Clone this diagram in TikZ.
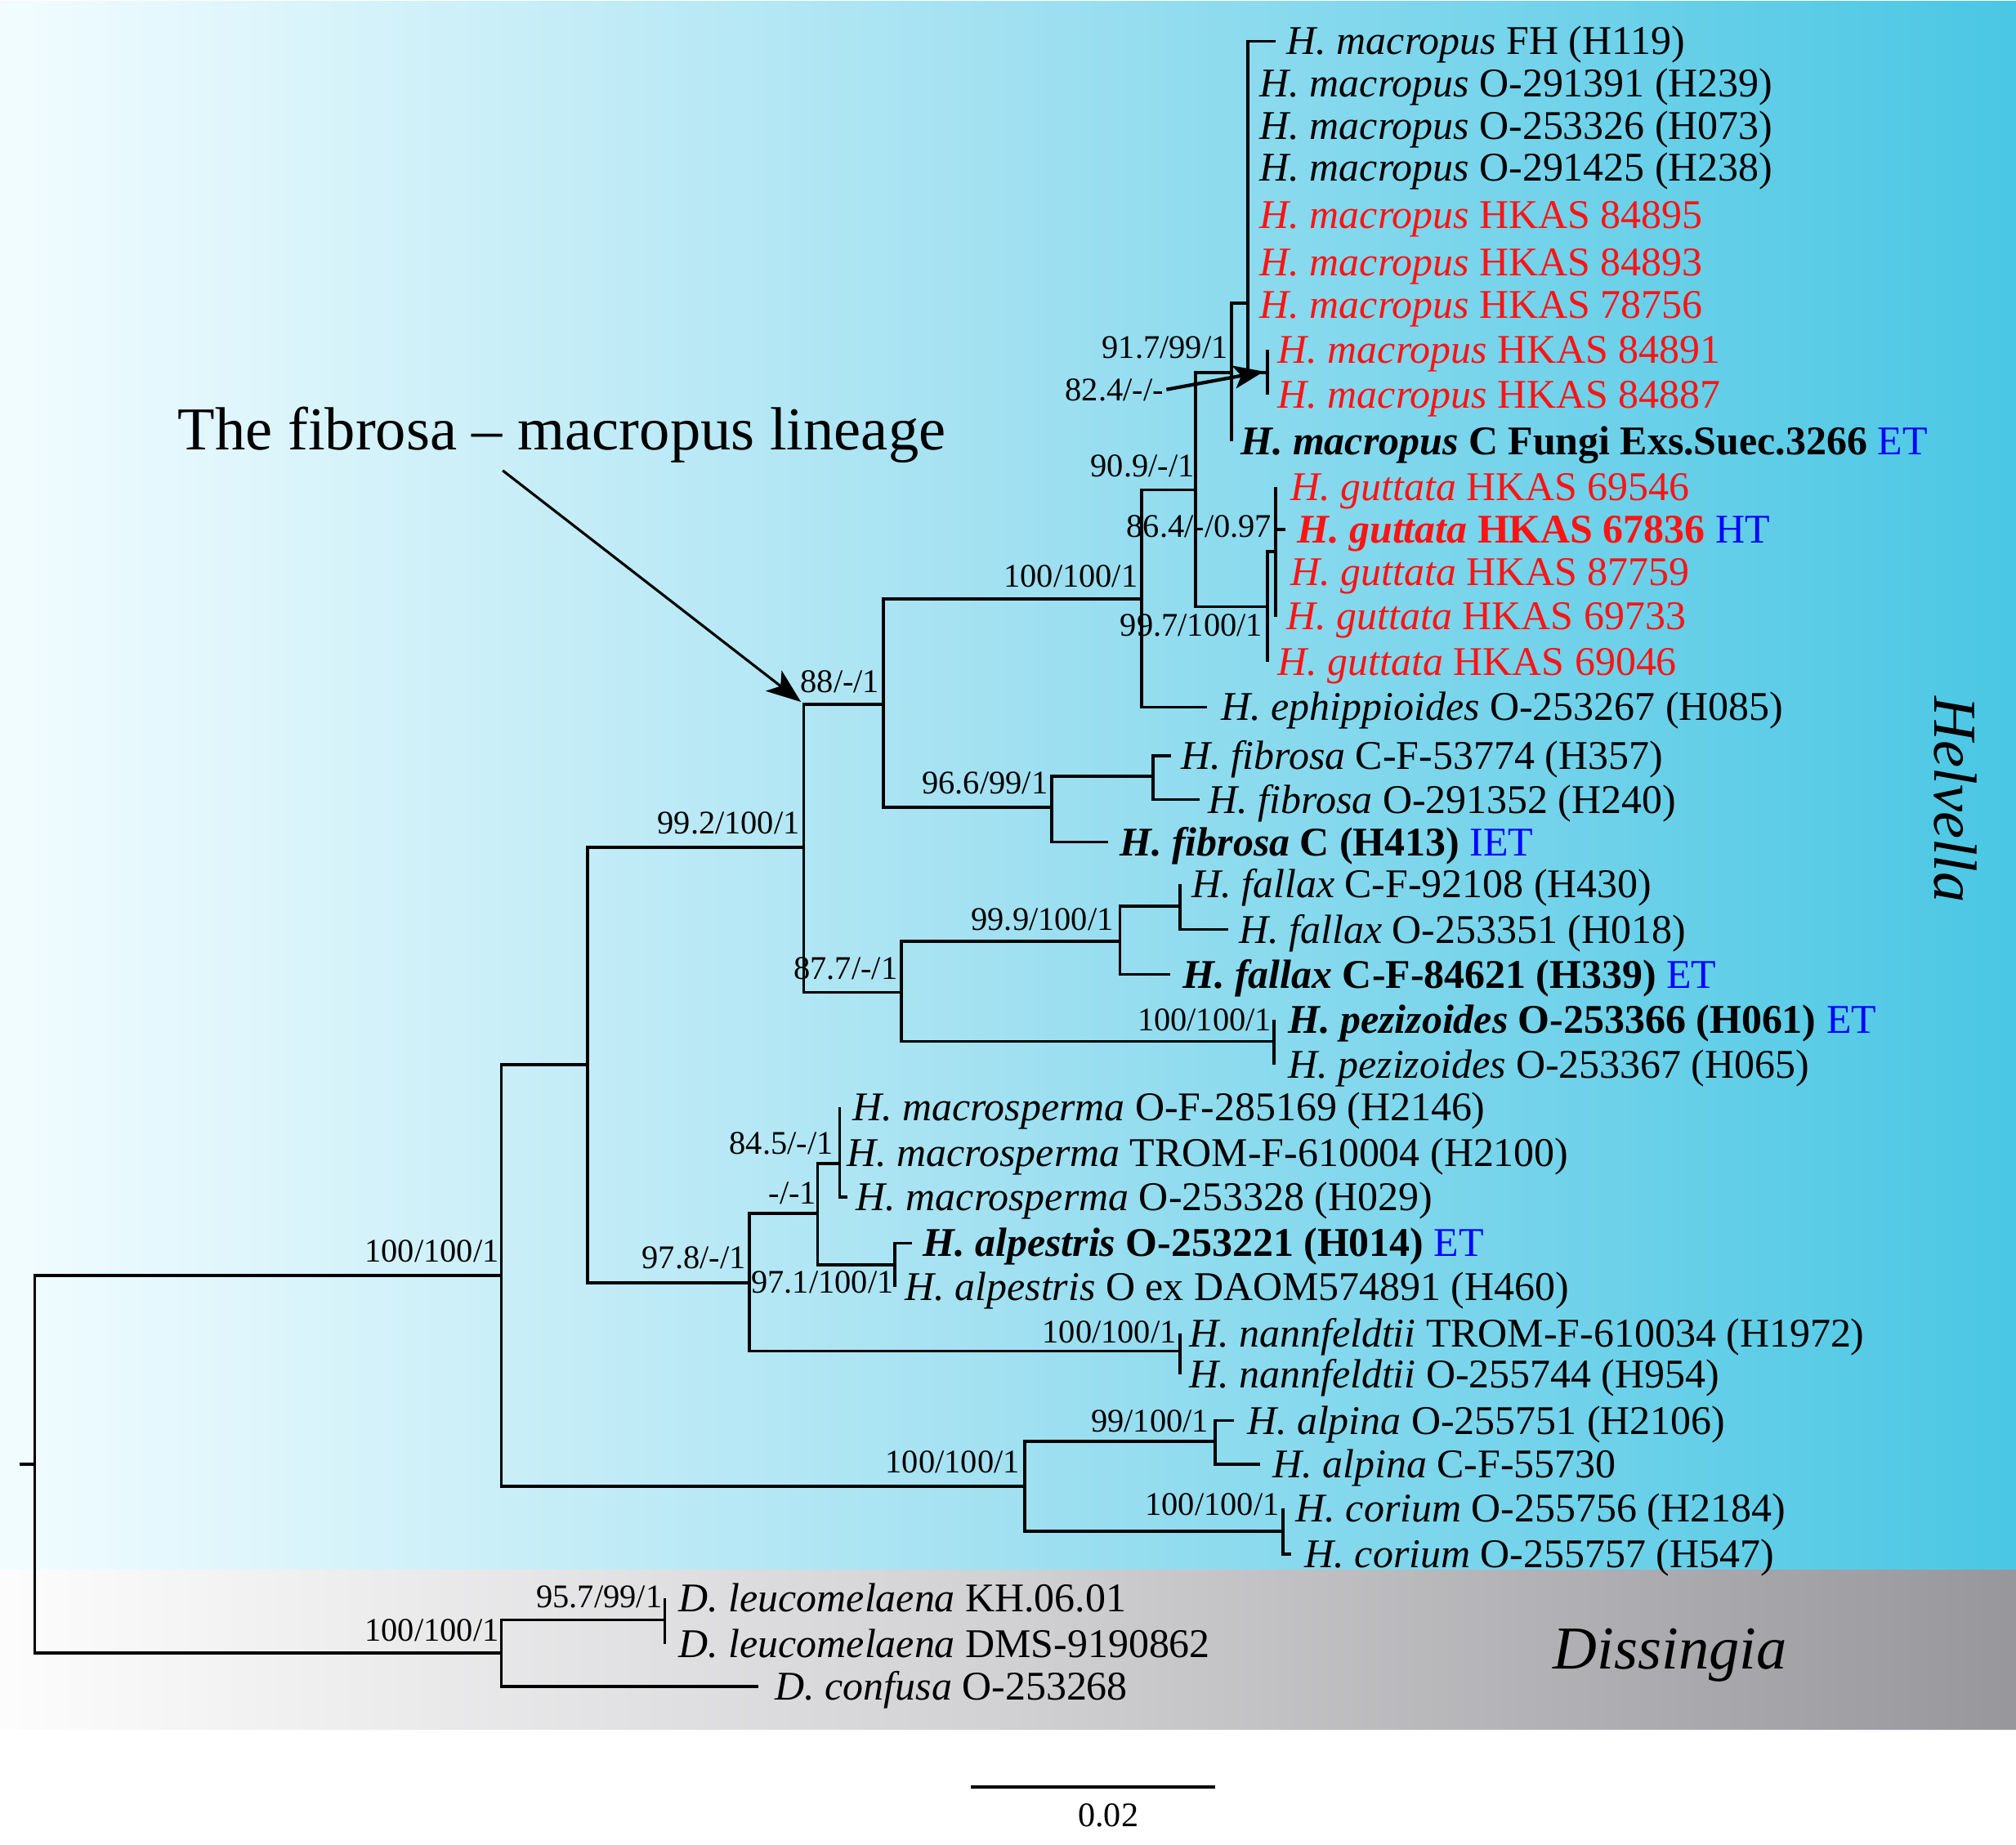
\documentclass[tikz,border=0pt]{standalone}
\usepackage{fontspec}
\setmainfont{Liberation Serif}
\usetikzlibrary{arrows.meta}
\definecolor{tred}{RGB}{250,20,20}
\definecolor{tblue}{RGB}{0,0,255}
\pgfdeclarehorizontalshading{helvshade}{100bp}{rgb(0bp)=(0.95,0.99,1.0); rgb(25bp)=(0.95,0.99,1.0); rgb(50bp)=(0.63,0.88,0.945); rgb(75bp)=(0.29,0.78,0.894); rgb(100bp)=(0.29,0.78,0.894)}
\pgfdeclarehorizontalshading{disshade}{100bp}{rgb(0bp)=(0.99,0.99,0.99); rgb(25bp)=(0.99,0.99,0.99); rgb(50bp)=(0.82,0.82,0.83); rgb(75bp)=(0.59,0.59,0.61); rgb(100bp)=(0.59,0.59,0.61)}
\newcommand\leafsz{\fontsize{14.2pt}{17pt}\selectfont}
\newcommand\supsz{\fontsize{11.5pt}{14pt}\selectfont}
\newcommand\bigsz{\fontsize{21.2pt}{25pt}\selectfont}
\newcommand\barsz{\fontsize{12pt}{14pt}\selectfont}
\tikzset{
  br/.style={line width=1.05pt, line join=miter, line cap=butt},
  leaf/.style={anchor=west, inner sep=0pt, outer sep=0pt, font=\leafsz, text height=9.4pt, text depth=0pt},
  redleaf/.style={leaf, text=tred},
  sup/.style={anchor=east, inner sep=0pt, outer sep=0pt, font=\supsz, text height=7.8pt, text depth=0pt},
  bigarrow/.style={line width=0.9pt, -{Stealth[length=12pt,width=9pt,inset=3pt]}},
  smallarrow/.style={line width=1.2pt, -{Stealth[length=10.5pt,width=8pt,inset=2.5pt]}}
}
\begin{document}
\begin{tikzpicture}[x=0.015733cm, y=-0.015733cm]
\useasboundingbox (0,0) rectangle (1568,1435);
% backgrounds
\shade[shading=helvshade] (0,1) rectangle (1568,1221);
\shade[shading=disshade] (0,1221) rectangle (1568,1345);

% internal nodes
\coordinate (rootstub) at (15,1139);
\coordinate (root) at (27,1139);
\coordinate (hel) at (390,992);
\coordinate (dis) at (390,1286);
\coordinate (nA) at (457,828);
\coordinate (nM) at (797,1156);
\coordinate (nB) at (625,659);
\coordinate (nC) at (583,998);
\coordinate (nD) at (687,548);
\coordinate (nG) at (701,772);
\coordinate (nE) at (888,466);
\coordinate (nF) at (818,628);
\coordinate (nR) at (930,381);
\coordinate (nS) at (958,290);
\coordinate (nU) at (970.5,236);
\coordinate (nV) at (986,290);
\coordinate (nT) at (986,472);
\coordinate (nW) at (992,429);
\coordinate (nX) at (897,604);
\coordinate (nH) at (871,732);
\coordinate (nJ) at (918,705);
\coordinate (nI) at (991,810);
\coordinate (nK) at (636,944);
\coordinate (nL) at (653,905);
\coordinate (nAl) at (696,984);
\coordinate (nN) at (918,1051);
\coordinate (nP) at (945,1121);
\coordinate (nO) at (998,1191);
\coordinate (nQ) at (517,1260);

% tips
\coordinate (p1) at (992,32);
\coordinate (p2) at (970.5,65);
\coordinate (p3) at (970.5,98);
\coordinate (p4) at (970.5,130);
\coordinate (p5) at (970.5,167);
\coordinate (p6) at (970.5,204);
\coordinate (p7) at (970.5,237);
\coordinate (p8) at (986,272);
\coordinate (p9) at (986,307);
\coordinate (p10) at (958,343);
\coordinate (p11) at (992,379);
\coordinate (p12) at (1000,412);
\coordinate (p13) at (992,445);
\coordinate (p14) at (992,480);
\coordinate (p15) at (986,515);
\coordinate (p16) at (939,550);
\coordinate (p17) at (911,588);
\coordinate (p18) at (933,622);
\coordinate (p19) at (862,655);
\coordinate (p20) at (918,688);
\coordinate (p21) at (955,723);
\coordinate (p22) at (910,758);
\coordinate (p23) at (991,793);
\coordinate (p24) at (991,828);
\coordinate (p25) at (653,861);
\coordinate (p26) at (653,897);
\coordinate (p27) at (659,931);
\coordinate (p28) at (709,967);
\coordinate (p29) at (696,1001);
\coordinate (p30) at (918,1037);
\coordinate (p31) at (918,1069);
\coordinate (p32) at (960,1105);
\coordinate (p33) at (980,1139);
\coordinate (p34) at (998,1173);
\coordinate (p35) at (1004,1209);
\coordinate (p36) at (517,1243);
\coordinate (p37) at (517,1279);
\coordinate (p38) at (590,1312);

% branches
\draw[br] (rootstub) -- (root);
\draw[br] (root) |- (hel);
\draw[br] (root) |- (dis);
\draw[br] (hel) |- (nA);
\draw[br] (hel) |- (nM);
\draw[br] (nA) |- (nB);
\draw[br] (nA) |- (nC);
\draw[br] (nB) |- (nD);
\draw[br] (nB) |- (nG);
\draw[br] (nD) |- (nE);
\draw[br] (nD) |- (nF);
\draw[br] (nE) |- (nR);
\draw[br] (nE) |- (p16);
\draw[br] (nR) |- (nS);
\draw[br] (nR) |- (nT);
\draw[br] (nS) |- (nU);
\draw[br] (nS) |- (p10);
\foreach \c in {p1,p2,p3,p4,p5,p6,p7,nV} {\draw[br] (nU) |- (\c);}
\draw[br] (nV) |- (p8);
\draw[br] (nV) |- (p9);
\draw[br] (nT) |- (nW);
\draw[br] (nT) |- (p15);
\foreach \c in {p11,p12,p13,p14} {\draw[br] (nW) |- (\c);}
\draw[br] (nF) |- (nX);
\draw[br] (nF) |- (p19);
\draw[br] (nX) |- (p17);
\draw[br] (nX) |- (p18);
\draw[br] (nG) |- (nH);
\draw[br] (nG) |- (nI);
\draw[br] (nH) |- (nJ);
\draw[br] (nH) |- (p22);
\draw[br] (nJ) |- (p20);
\draw[br] (nJ) |- (p21);
\draw[br] (nI) |- (p23);
\draw[br] (nI) |- (p24);
\draw[br] (nC) |- (nK);
\draw[br] (nC) |- (nN);
\draw[br] (nK) |- (nL);
\draw[br] (nK) |- (nAl);
\foreach \c in {p25,p26,p27} {\draw[br] (nL) |- (\c);}
\draw[br] (nAl) |- (p28);
\draw[br] (nAl) |- (p29);
\draw[br] (nN) |- (p30);
\draw[br] (nN) |- (p31);
\draw[br] (nM) |- (nP);
\draw[br] (nM) |- (nO);
\draw[br] (nP) |- (p32);
\draw[br] (nP) |- (p33);
\draw[br] (nO) |- (p34);
\draw[br] (nO) |- (p35);
\draw[br] (dis) |- (nQ);
\draw[br] (dis) |- (p38);
\draw[br] (nQ) |- (p36);
\draw[br] (nQ) |- (p37);

% leaf labels
\node[leaf] (t1) at (1001,32) {\textit{H. macropus} FH (H119)};
\node[leaf] (t2) at (980,65) {\textit{H. macropus} O-291391 (H239)};
\node[leaf] (t3) at (980,98) {\textit{H. macropus} O-253326 (H073)};
\node[leaf] (t4) at (980,130) {\textit{H. macropus} O-291425 (H238)};
\node[redleaf] (t5) at (980,167) {\textit{H. macropus} HKAS 84895};
\node[redleaf] (t6) at (980,204) {\textit{H. macropus} HKAS 84893};
\node[redleaf] (t7) at (980,237) {\textit{H. macropus} HKAS 78756};
\node[redleaf] (t8) at (994,272) {\textit{H. macropus} HKAS 84891};
\node[redleaf] (t9) at (994,307) {\textit{H. macropus} HKAS 84887};
\node[leaf] (t10) at (965,343) {\textbf{\textit{H. macropus} C Fungi Exs.Suec.3266} \textcolor{tblue}{ET}};
\node[redleaf] (t11) at (1004,379) {\textit{H. guttata} HKAS 69546};
\node[leaf] (t12) at (1009,412) {\textcolor{tred}{\textbf{\textit{H. guttata} HKAS 67836}} \textcolor{tblue}{HT}};
\node[redleaf] (t13) at (1004,445) {\textit{H. guttata} HKAS 87759};
\node[redleaf] (t14) at (1001,479) {\textit{H. guttata} HKAS 69733};
\node[redleaf] (t15) at (994,515) {\textit{H. guttata} HKAS 69046};
\node[leaf] (t16) at (950,550) {\textit{H. ephippioides} O-253267 (H085)};
\node[leaf] (t17) at (919,588) {\textit{H. fibrosa} C-F-53774 (H357)};
\node[leaf] (t18) at (940,622) {\textit{H. fibrosa} O-291352 (H240)};
\node[leaf] (t19) at (871,655) {\textbf{\textit{H. fibrosa} C (H413)} \textcolor{tblue}{IET}};
\node[leaf] (t20) at (927,688) {\textit{H. fallax} C-F-92108 (H430)};
\node[leaf] (t21) at (964,723) {\textit{H. fallax} O-253351 (H018)};
\node[leaf] (t22) at (920,758) {\textbf{\textit{H. fallax} C-F-84621 (H339)} \textcolor{tblue}{ET}};
\node[leaf] (t23) at (1002,793) {\textbf{\textit{H. pezizoides} O-253366 (H061)} \textcolor{tblue}{ET}};
\node[leaf] (t24) at (1002,828) {\textit{H. pezizoides} O-253367 (H065)};
\node[leaf] (t25) at (663,861) {\textit{H. macrosperma} O-F-285169 (H2146)};
\node[leaf] (t26) at (659,897) {\textit{H. macrosperma} TROM-F-610004 (H2100)};
\node[leaf] (t27) at (666,931) {\textit{H. macrosperma} O-253328 (H029)};
\node[leaf] (t28) at (718,967) {\textbf{\textit{H. alpestris} O-253221 (H014)} \textcolor{tblue}{ET}};
\node[leaf] (t29) at (704,1001) {\textit{H. alpestris} O ex DAOM574891 (H460)};
\node[leaf] (t30) at (925,1037) {\textit{H. nannfeldtii} TROM-F-610034 (H1972)};
\node[leaf] (t31) at (925,1069) {\textit{H. nannfeldtii} O-255744 (H954)};
\node[leaf] (t32) at (970,1105) {\textit{H. alpina} O-255751 (H2106)};
\node[leaf] (t33) at (990,1139) {\textit{H. alpina} C-F-55730};
\node[leaf] (t34) at (1008,1173) {\textit{H. corium} O-255756 (H2184)};
\node[leaf] (t35) at (1015,1209) {\textit{H. corium} O-255757 (H547)};
\node[leaf] (t36) at (528,1243) {\textit{D. leucomelaena} KH.06.01};
\node[leaf] (t37) at (528,1279) {\textit{D. leucomelaena} DMS-9190862};
\node[leaf] (t38) at (603,1312) {\textit{D. confusa} O-253268};

% support values
\node[sup] (s1) at (388,973) {100/100/1};
\node[sup] (s2) at (388,1268) {100/100/1};
\node[sup] (s3) at (515,1242) {95.7/99/1};
\node[sup] (s4) at (622,640) {99.2/100/1};
\node[sup] (s5) at (684,530) {88/-/1};
\node[sup] (s6) at (698,753) {87.7/-/1};
\node[sup] (s7) at (815,609) {96.6/99/1};
\node[sup] (s8) at (885,448) {100/100/1};
\node[sup] (s9) at (929,362) {90.9/-/1};
\node[sup] (s10) at (955,270) {91.7/99/1};
\node[sup] (s11) at (905,303) {82.4/-/-};
\node[sup] (s12) at (989,409) {86.4/-/0.97};
\node[sup] (s13) at (982,486) {99.7/100/1};
\node[sup] (s14) at (866,715) {99.9/100/1};
\node[sup] (s15) at (989,793) {100/100/1};
\node[sup] (s16) at (648,889) {84.5/-/1};
\node[sup] (s17) at (635,928) {-/-1};
\node[sup] (s18) at (580,978) {97.8/-/1};
\node[sup] (s19) at (695,997) {97.1/100/1};
\node[sup] (s20) at (915,1036) {100/100/1};
\node[sup] (s21) at (940,1105) {99/100/1};
\node[sup] (s22) at (793,1137) {100/100/1};
\node[sup] (s23) at (995,1170) {100/100/1};

% arrow for 82.4
\coordinate (a824tip) at (983,289);
\draw[smallarrow] ([xshift=1pt]s11.east) -- (a824tip);

% title and its arrow
\node[anchor=base west, inner sep=0pt, font=\bigsz] (title) at (138,350) {The fibrosa – macropus lineage};
\coordinate (tastart) at (391,366);
\coordinate (taend) at (623,546);
\draw[bigarrow] (tastart) -- (taend);

% clade names
\node[anchor=base, inner sep=0pt, font=\bigsz\itshape, rotate=-90] (helv) at (1505,622) {Helvella};
\node[anchor=base, inner sep=0pt, font=\bigsz\itshape] (diss) at (1299,1298) {Dissingia};

% scale bar
\coordinate (sb1) at (755,1390);
\coordinate (sb2) at (945,1390);
\draw[line width=1.2pt] (sb1) -- (sb2);
\node[anchor=base, inner sep=0pt, font=\barsz] (sbl) at (862,1421) {0.02};
\end{tikzpicture}
\end{document}
